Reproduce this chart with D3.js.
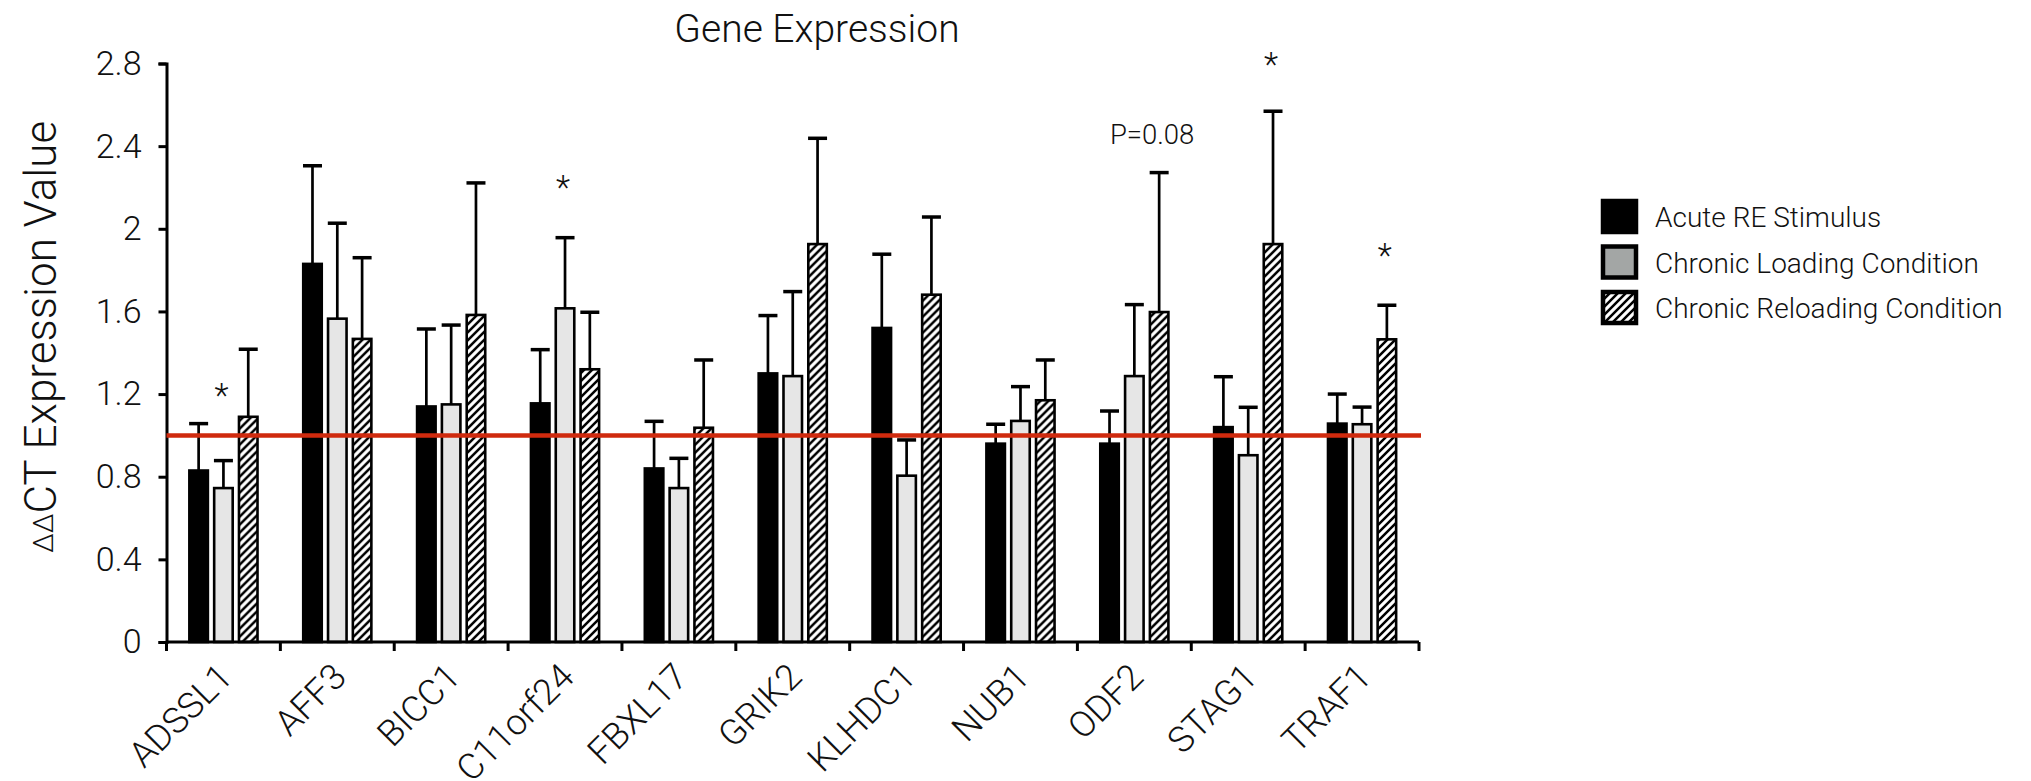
<!DOCTYPE html>
<html>
<head>
<meta charset="utf-8">
<script src="https://cdn.jsdelivr.net/npm/d3@7"></script>
<style>
  body { margin: 0; background: #fff; }
  text { font-family: Roboto, "Liberation Sans", sans-serif; font-weight: 300; fill: #111; }
</style>
</head>
<body>
<script>
// data
const genes = ["ADSSL1", "AFF3", "BICC1", "C11orf24", "FBXL17", "GRIK2", "KLHDC1", "NUB1", "ODF2", "STAG1", "TRAF1"];
const seriesNames = ["Acute RE Stimulus", "Chronic Loading Condition", "Chronic Reloading Condition"];
const acute = [0.83, 1.83, 1.14, 1.155, 0.84, 1.30, 1.52, 0.96, 0.96, 1.04, 1.057];
const acuteErr = [0.227, 0.475, 0.375, 0.26, 0.228, 0.28, 0.357, 0.094, 0.158, 0.244, 0.143];
const loading = [0.745, 1.565, 1.15, 1.615, 0.745, 1.287, 0.805, 1.07, 1.287, 0.904, 1.054];
const loadingErr = [0.133, 0.462, 0.384, 0.342, 0.144, 0.409, 0.173, 0.166, 0.346, 0.232, 0.083];
const reloading = [1.09, 1.467, 1.583, 1.32, 1.037, 1.926, 1.681, 1.17, 1.597, 1.926, 1.465];
const reloadingErr = [0.327, 0.393, 0.639, 0.276, 0.328, 0.512, 0.376, 0.195, 0.675, 0.643, 0.165];
const yTicks = [0, 0.4, 0.8, 1.2, 1.6, 2, 2.4, 2.8];
const baseline = 1.0;
// significance marks: gene, series index, label, value at mark centre
const marks = [
    { gene: "ADSSL1", s: 1, text: "*", v: 1.22 },
    { gene: "C11orf24", s: 1, text: "*", v: 2.226 },
    { gene: "STAG1", s: 2, text: "*", v: 2.82 },
    { gene: "TRAF1", s: 2, text: "*", v: 1.897 },
    { gene: "ODF2", s: 2, text: "P=0.08", v: 2.455 }
];

const width = 2031;
const height = 781;
const margin = { top: 63.5, right: 612, bottom: 139, left: 166.5 };

const svg = d3.select("body").append("svg")
    .attr("width", width)
    .attr("height", height);

// hatch for the reloading bars
const defs = svg.append("defs");
const hatch = defs.append("pattern")
    .attr("id", "hatch")
    .attr("patternUnits", "userSpaceOnUse")
    .attr("width", 8)
    .attr("height", 8);
hatch.append("rect").attr("width", 8).attr("height", 8).attr("fill", "#fff");
hatch.append("path")
    .attr("d", "M-2,2 l4,-4 M0,8 l8,-8 M6,10 l4,-4")
    .attr("stroke", "#000")
    .attr("stroke-width", 2.5);

const fills = ["#000", "#e6e6e6", "url(#hatch)"];
const legendFills = ["#000", "#a3a6a5", "url(#hatch)"];

const x0 = d3.scaleBand()
    .domain(genes)
    .range([margin.left, width - margin.right])
    .paddingInner(0.384)
    .paddingOuter(0.192);

const x1 = d3.scaleBand()
    .domain([0, 1, 2])
    .range([0, x0.bandwidth()])
    .paddingInner(0.173);

const y = d3.scaleLinear()
    .domain([0, 2.8])
    .range([height - margin.bottom, margin.top]);

const rows = genes.map((g, i) => ({
    gene: g,
    vals: [
        { s: 0, v: acute[i], e: acuteErr[i] },
        { s: 1, v: loading[i], e: loadingErr[i] },
        { s: 2, v: reloading[i], e: reloadingErr[i] }
    ]
}));

const groups = svg.append("g").selectAll("g")
    .data(rows)
    .enter().append("g")
    .attr("transform", d => `translate(${x0(d.gene)},0)`);

// error bars (upper only)
groups.selectAll("line.err")
    .data(d => d.vals)
    .enter().append("line")
    .attr("class", "err")
    .attr("x1", d => x1(d.s) + x1.bandwidth() / 2)
    .attr("x2", d => x1(d.s) + x1.bandwidth() / 2)
    .attr("y1", d => y(d.v))
    .attr("y2", d => y(d.v + d.e))
    .attr("stroke", "#000")
    .attr("stroke-width", 2.7);

groups.selectAll("line.cap")
    .data(d => d.vals)
    .enter().append("line")
    .attr("class", "cap")
    .attr("x1", d => x1(d.s) + x1.bandwidth() / 2 - 9.5)
    .attr("x2", d => x1(d.s) + x1.bandwidth() / 2 + 9.5)
    .attr("y1", d => y(d.v + d.e))
    .attr("y2", d => y(d.v + d.e))
    .attr("stroke", "#000")
    .attr("stroke-width", 3.5);

groups.selectAll("rect")
    .data(d => d.vals)
    .enter().append("rect")
    .attr("x", d => x1(d.s) + 1)
    .attr("width", x1.bandwidth() - 2)
    .attr("y", d => y(d.v))
    .attr("height", d => y(0) - y(d.v))
    .attr("fill", d => fills[d.s])
    .attr("stroke", "#000")
    .attr("stroke-width", 2.6);

// y axis
const yAxis = svg.append("g")
    .attr("transform", `translate(${margin.left},0)`)
    .call(d3.axisLeft(y).tickValues(yTicks).tickSizeOuter(0).tickSize(8).tickPadding(17)
        .tickFormat(d => d3.format("~g")(d)));
yAxis.select(".domain").attr("stroke-width", 3);
yAxis.selectAll(".tick line").attr("stroke-width", 3);
yAxis.selectAll(".tick text").attr("font-size", 34).attr("fill", "#111");

// x axis: line, ticks at category boundaries, rotated labels
const xAxis = svg.append("g");
xAxis.append("line")
    .attr("x1", x0.range()[0])
    .attr("x2", x0.range()[1])
    .attr("y1", y(0))
    .attr("y2", y(0))
    .attr("stroke", "#000")
    .attr("stroke-width", 3.2);
xAxis.selectAll("line.tick")
    .data(d3.range(genes.length + 1))
    .enter().append("line")
    .attr("class", "tick")
    .attr("x1", i => x0.range()[0] + i * x0.step())
    .attr("x2", i => x0.range()[0] + i * x0.step())
    .attr("y1", y(0))
    .attr("y2", y(0) + 9)
    .attr("stroke", "#000")
    .attr("stroke-width", 3);
xAxis.selectAll("text")
    .data(genes)
    .enter().append("text")
    .attr("transform", g => `translate(${x0(g) + x0.bandwidth() / 2 + 11},${y(0) + 37}) rotate(-45)`)
    .attr("text-anchor", "end")
    .attr("font-size", 36)
    .text(g => g);

// reference line at 1.0
svg.append("line")
    .attr("x1", margin.left)
    .attr("x2", width - margin.right + 2)
    .attr("y1", y(baseline))
    .attr("y2", y(baseline))
    .attr("stroke", "#cf2a0e")
    .attr("stroke-width", 4.5);

// significance marks
svg.selectAll("text.mark")
    .data(marks)
    .enter().append("text")
    .attr("class", "mark")
    .attr("x", d => x0(d.gene) + x1(d.s) + x1.bandwidth() / 2 + (d.text === "*" ? -2 : -7))
    .attr("y", d => y(d.v) + (d.text === "*" ? 17 : 9))
    .attr("text-anchor", "middle")
    .attr("font-size", d => d.text === "*" ? 33 : 27.5)
    .text(d => d.text);

// title
svg.append("text")
    .attr("x", 817)
    .attr("y", 41.5)
    .attr("text-anchor", "middle")
    .attr("font-size", 39)
    .text("Gene Expression");

// y label
const yLabel = svg.append("text")
    .attr("transform", `translate(56,${(margin.top + y(0)) / 2 - 16}) rotate(-90)`)
    .attr("text-anchor", "middle")
    .attr("font-size", 44);
yLabel.append("tspan").attr("font-size", 28).attr("dy", -3).text("ΔΔ");
yLabel.append("tspan").attr("dy", 3).text("CT Expression Value");

// legend
const legend = svg.append("g").selectAll("g")
    .data(seriesNames)
    .enter().append("g")
    .attr("transform", (d, i) => `translate(1603,${201 + i * 45.5})`);
legend.append("rect")
    .attr("width", 33)
    .attr("height", 31)
    .attr("fill", (d, i) => legendFills[i])
    .attr("stroke", "#000")
    .attr("stroke-width", 4.5);
legend.append("text")
    .attr("x", 52)
    .attr("y", 26)
    .attr("font-size", 28)
    .text(d => d);
</script>
</body>
</html>
